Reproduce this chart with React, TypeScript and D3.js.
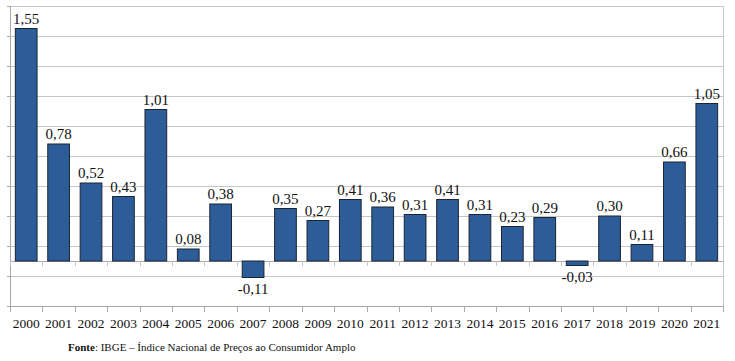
import * as d3 from 'd3'
import { useRef, useEffect } from 'react'

const years = ['2000','2001','2002','2003','2004','2005','2006','2007','2008','2009','2010','2011','2012','2013','2014','2015','2016','2017','2018','2019','2020','2021']
const values = [1.55,0.78,0.52,0.43,1.01,0.08,0.38,-0.11,0.35,0.27,0.41,0.36,0.31,0.41,0.31,0.23,0.29,-0.03,0.30,0.11,0.66,1.05]
const gridValues = [-0.3,-0.1,0.1,0.3,0.5,0.7,0.9,1.1,1.3,1.5,1.7]

export default function App(){
    const svgRef = useRef<SVGSVGElement>(null)
    useEffect(()=>{
        const width = 735, height = 361
        const left = 10, right = 723, top = 6, bottom = 306

        const svg = d3.select(svgRef.current)
        svg.selectAll('*').remove()
        svg.attr('width', width).attr('height', height)
            .style('position', 'absolute').style('left', 0).style('top', 0)
            .style('font-family', "'Liberation Serif', serif")

        const xScale = d3.scaleBand().domain(years).range([left, right]).paddingInner(0.33).paddingOuter(0.165)
        const yScale = d3.scaleLinear().domain([-0.3, 1.7]).range([bottom, top])
        const y0 = yScale(0)

        // gridlines
        svg.append('g').selectAll('line').data(gridValues).join('line')
            .attr('x1', left).attr('x2', right)
            .attr('y1', d=>Math.round(yScale(d))+0.5).attr('y2', d=>Math.round(yScale(d))+0.5)
            .attr('stroke', '#c6c6c6').attr('stroke-width', 1)
        // left stubs
        svg.append('g').selectAll('line').data(gridValues).join('line')
            .attr('x1', left-3).attr('x2', left)
            .attr('y1', d=>Math.round(yScale(d))+0.5).attr('y2', d=>Math.round(yScale(d))+0.5)
            .attr('stroke', '#a8a8a8')

        // left and right borders
        svg.append('line').attr('x1', left+0.5).attr('x2', left+0.5).attr('y1', yScale(1.7)).attr('y2', bottom+1)
            .attr('stroke', '#a8a8a8')
        svg.append('line').attr('x1', right+0.5).attr('x2', right+0.5).attr('y1', yScale(1.7)).attr('y2', bottom+1)
            .attr('stroke', '#c6c6c6')

        const step = xScale.step()
        const boundaries = d3.range(years.length + 1).map(i => left + i*step)

        // zero line with ticks
        svg.append('line').attr('x1', left).attr('x2', right)
            .attr('y1', Math.round(y0)+0.5).attr('y2', Math.round(y0)+0.5)
            .attr('stroke', '#a8a8a8')
        svg.append('g').selectAll('line').data(boundaries).join('line')
            .attr('x1', d=>Math.round(d)+0.5).attr('x2', d=>Math.round(d)+0.5)
            .attr('y1', Math.round(y0)).attr('y2', Math.round(y0)+5)
            .attr('stroke', '#c6c6c6')

        // bottom axis
        svg.append('line').attr('x1', left).attr('x2', right)
            .attr('y1', bottom+0.5).attr('y2', bottom+0.5)
            .attr('stroke', '#a8a8a8')
        svg.append('g').selectAll('line').data(boundaries).join('line')
            .attr('x1', d=>Math.round(d)+0.5).attr('x2', d=>Math.round(d)+0.5)
            .attr('y1', bottom).attr('y2', bottom+6)
            .attr('stroke', '#a8a8a8')

        // bars
        svg.append('g').selectAll('rect').data(values).join('rect')
            .attr('x', (d,i)=>xScale(years[i])!)
            .attr('width', xScale.bandwidth())
            .attr('y', d=>yScale(Math.max(0,d)))
            .attr('height', d=>Math.abs(yScale(d)-y0))
            .attr('fill', '#2d5d99')
            .attr('stroke', '#1b2433')
            .attr('stroke-width', 1)

        // value labels
        svg.append('g').selectAll('text').data(values).join('text')
            .attr('x', (d,i)=>xScale(years[i])! + xScale.bandwidth()/2)
            .attr('y', d=> d>=0 ? yScale(d)-5 : yScale(d)+16)
            .attr('text-anchor', 'middle')
            .attr('font-size', 15).attr('fill', '#111')
            .text(d=>d.toFixed(2).replace('.', ','))

        // year labels
        svg.append('g').selectAll('text').data(years).join('text')
            .attr('x', d=>xScale(d)! + xScale.bandwidth()/2)
            .attr('y', 328)
            .attr('text-anchor', 'middle')
            .attr('font-size', 13.5).attr('fill', '#111')
            .text(d=>d)

        const src = svg.append('text')
            .attr('x', 68).attr('y', 351)
            .attr('font-size', 11).attr('fill', '#111')
        src.append('tspan').attr('font-weight', 'bold').text('Fonte')
        src.append('tspan').text(': IBGE – Índice Nacional de Preços ao Consumidor Amplo')
    },[])
    return (
        <svg ref={svgRef}></svg>
    )
}
